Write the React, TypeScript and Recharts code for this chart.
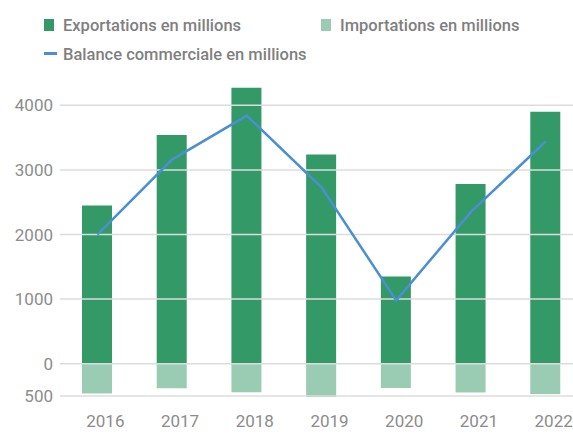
import React from 'react';
import { ComposedChart, Bar, Line, XAxis, YAxis, ReferenceLine, Legend } from 'recharts';

const years = ['2016', '2017', '2018', '2019', '2020', '2021', '2022'];
const exportations = [2450, 3540, 4270, 3240, 1350, 2780, 3900];
const importations = [-460, -380, -440, -515, -375, -445, -470];
const balance = [2000, 3160, 3840, 2730, 980, 2350, 3440];
const yTicks = [-500, 0, 1000, 2000, 3000, 4000];

const data = years.map((year, i) => ({
  year,
  exportations: exportations[i],
  importations: importations[i],
  balance: balance[i],
}));

const colors = {
  exp: '#339966',
  imp: '#99ccb2',
  line: '#4a8fd4',
  grid: '#dcdcdc',
  tick: '#8c8c8c',
  legend: '#7f7f7f',
};

const font = 'Roboto, "Noto Sans", sans-serif';

const CustomLegend = () => {
  const textStyle: React.CSSProperties = {
    position: 'absolute',
    fontFamily: font,
    fontWeight: 500,
    fontSize: 16.5,
    color: colors.legend,
    lineHeight: '17px',
    whiteSpace: 'nowrap',
  };
  return (
    <div style={{ position: 'relative', width: 573, height: 65 }}>
      <div style={{ position: 'absolute', left: 44, top: 19, width: 10, height: 12, background: colors.exp }} />
      <div style={{ ...textStyle, left: 63, top: 17 }}>Exportations en millions</div>
      <div style={{ position: 'absolute', left: 321, top: 19, width: 10, height: 12, background: colors.imp }} />
      <div style={{ ...textStyle, left: 340, top: 17 }}>Importations en millions</div>
      <div style={{ position: 'absolute', left: 44, top: 52, width: 13, height: 3, background: colors.line }} />
      <div style={{ ...textStyle, left: 63, top: 46 }}>Balance commerciale en millions</div>
    </div>
  );
};

const App: React.FC = () => {
  return (
    <div style={{ position: 'absolute', left: 0, top: 0, width: 573, height: 441, overflow: 'hidden', background: '#fff' }}>
      <ComposedChart
        width={600}
        height={441}
        data={data}
        stackOffset="sign"
        margin={{ top: 73, right: 17, left: 0, bottom: 0 }}
      >
        <XAxis
          dataKey="year"
          axisLine={false}
          tickLine={false}
          height={44}
          tickSize={0}
          tickMargin={18}
          tick={{ fill: colors.tick, fontSize: 17, fontFamily: font, dx: 8 }}
        />
        <YAxis
          domain={[-500, 4500]}
          ticks={yTicks}
          width={60}
          axisLine={false}
          tickLine={false}
          tickSize={0}
          tickMargin={7}
          tick={{ fill: colors.tick, fontSize: 17, fontFamily: font }}
          tickFormatter={(v: number) => `${Math.abs(v)}`}
        />
        {yTicks.map((t) => (
          <ReferenceLine key={t} y={t} stroke={colors.grid} strokeWidth={1.5} />
        ))}
        <Legend
          verticalAlign="middle"
          wrapperStyle={{ top: 0, left: 0, width: 573 }}
          content={<CustomLegend />}
        />
        <Bar dataKey="exportations" stackId="a" fill={colors.exp} barSize={30} isAnimationActive={false} />
        <Bar dataKey="importations" stackId="a" fill={colors.imp} barSize={30} isAnimationActive={false} />
        <Line
          type="linear"
          dataKey="balance"
          stroke={colors.line}
          strokeWidth={2.5}
          dot={false}
          activeDot={false}
          isAnimationActive={false}
        />
      </ComposedChart>
    </div>
  );
};

export default App;
